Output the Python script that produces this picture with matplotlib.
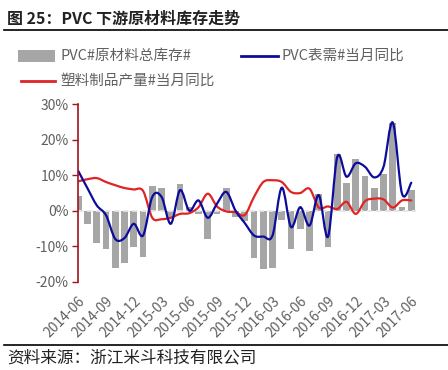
import matplotlib
matplotlib.use("Agg")
import matplotlib.pyplot as plt
from matplotlib.path import Path
from matplotlib.patches import PathPatch, Rectangle
from matplotlib.lines import Line2D
import numpy as np

plt.rcParams['font.family'] = ['Noto Sans CJK SC', 'DejaVu Sans']

# ---- data ----
months = ["2014-06", "2014-07", "2014-08", "2014-09", "2014-10", "2014-11", "2014-12",
          "2015-01", "2015-02", "2015-03", "2015-04", "2015-05", "2015-06", "2015-07",
          "2015-08", "2015-09", "2015-10", "2015-11", "2015-12", "2016-01", "2016-02",
          "2016-03", "2016-04", "2016-05", "2016-06", "2016-07", "2016-08", "2016-09",
          "2016-10", "2016-11", "2016-12", "2017-01", "2017-02", "2017-03", "2017-04",
          "2017-05", "2017-06"]
tick_labels = ["2014-06", "2014-09", "2014-12", "2015-03", "2015-06", "2015-09", "2015-12",
               "2016-03", "2016-06", "2016-09", "2016-12", "2017-03", "2017-06"]

inventory = [4.2, -3.8, -9.2, -10.9, -16.3, -14.9, -10.3, -13.1, 6.9, 6.5, -2.0, 7.5,
             1.0, -1.0, -8.1, -1.0, 6.5, -1.8, -2.8, -13.4, -16.5, -16.3, -2.5, -10.9,
             -5.2, -11.3, 4.8, -10.3, 16.0, 7.8, 14.6, 9.8, 6.5, 10.3, 24.9, 1.0, 5.8]
pvc_demand = [11.2, 6.3, 1.5, -1.3, -8.0, -7.7, -3.7, -7.0, 3.9, 3.9, -3.7, 5.8, 0.0,
              2.9, -2.0, 2.0, 5.3, 0.0, -3.5, -7.0, -7.3, -7.0, 6.5, -4.6, 1.0, -4.2,
              4.4, -7.3, 15.2, 9.6, 13.4, 12.4, 9.4, 12.4, 24.9, 4.8, 7.9]
plastic_output = [8.3, 8.9, 9.2, 8.1, 7.2, 6.4, 6.0, 5.6, -2.0, -2.4, -2.0, -0.9, -0.7,
                  1.0, 4.8, 1.2, -0.2, -0.4, -1.2, 3.9, 8.1, 8.6, 8.1, 5.3, 5.0, 6.2,
                  0.9, 1.2, 0.5, 2.5, -0.9, 2.7, 3.4, 3.2, 0.9, 2.9, 2.9]

title = "图 25：PVC 下游原材料库存走势"
source = "资料来源：浙江米斗科技有限公司"
leg_bar = "PVC#原材料总库存#"
leg_blue = "PVC表需#当月同比"
leg_red = "塑料制品产量#当月同比"

# ---- style ----
W, H = 448, 370
bar_c = '#a6a6a6'
blue_c = '#0c0c9c'
red_c = '#e02424'
axis_c = '#a0141a'
txt_c = '#606060'


def fx(px):
    return px / W


def fy(py):
    return 1 - py / H


def smooth_path(x, y):
    x = np.asarray(x, float)
    y = np.asarray(y, float)
    n = len(x)
    verts = [(x[0], y[0])]
    codes = [Path.MOVETO]
    for i in range(n - 1):
        p0 = i - 1 if i > 0 else i
        p3 = i + 2 if i + 2 < n else i + 1
        c1 = (x[i] + (x[i + 1] - x[p0]) / 6, y[i] + (y[i + 1] - y[p0]) / 6)
        c2 = (x[i + 1] - (x[p3] - x[i]) / 6, y[i + 1] - (y[p3] - y[i]) / 6)
        verts += [c1, c2, (x[i + 1], y[i + 1])]
        codes += [Path.CURVE4] * 3
    return Path(verts, codes)


fig = plt.figure(figsize=(W / 100, H / 100), dpi=100)

# title and rules
fig.text(fx(7), fy(19), title, fontsize=11.5, fontweight='bold', color='#222222',
         ha='left', va='center')
fig.add_artist(Line2D([fx(4), 1], [fy(30), fy(30)], color='black', lw=1.2))
fig.add_artist(Line2D([fx(4), 1], [fy(345), fy(345)], color='black', lw=1.2))
fig.text(fx(7), fy(358), source, fontsize=12, color='#222222', ha='left', va='center')

# legend
fig.add_artist(Rectangle((fx(18), fy(62)), fx(37), 12 / H, color=bar_c, lw=0))
fig.text(fx(60), fy(56), leg_bar, fontsize=10.5, color=txt_c, ha='left', va='center')
fig.add_artist(Line2D([fx(241), fx(278)], [fy(56), fy(56)], color=blue_c, lw=2))
fig.text(fx(281), fy(56), leg_blue, fontsize=10.5, color=txt_c, ha='left', va='center')
fig.add_artist(Line2D([fx(21), fx(55)], [fy(81), fy(81)], color=red_c, lw=2))
fig.text(fx(60), fy(81), leg_red, fontsize=10.5, color=txt_c, ha='left', va='center')

# axes
ax_left, ax_right = 78.3, 415.9
ax_top, ax_bot = 104.5, 281.5
ax = fig.add_axes([fx(ax_left), fy(ax_bot), fx(ax_right - ax_left), (ax_bot - ax_top) / H])
x = np.arange(len(months))
ax.bar(x, inventory, width=0.73, color=bar_c, zorder=1)
ax.axhline(0, color='#e6e6e6', lw=1.3, ls=(0, (3, 2)), zorder=2)
ax.add_patch(PathPatch(smooth_path(x, plastic_output), fill=False, edgecolor=red_c,
                       lw=1.6, zorder=3, capstyle='round', joinstyle='round'))
ax.add_patch(PathPatch(smooth_path(x, pvc_demand), fill=False, edgecolor=blue_c,
                       lw=1.6, zorder=4, capstyle='round', joinstyle='round'))

ax.set_xlim(0, 36.5)
ax.set_ylim(-20, 30)
yt = [-20, -10, 0, 10, 20, 30]
ax.set_yticks(yt)
ax.set_yticklabels([f"{v}%" for v in yt])
tick_pos = [months.index(m) for m in tick_labels]
ax.set_xticks(tick_pos)
ax.set_xticklabels(tick_labels, rotation=45, ha='right', rotation_mode='anchor')
ax.tick_params(axis='x', length=0, pad=9, labelsize=10, labelcolor=txt_c)
ax.tick_params(axis='y', length=4, width=1, color=axis_c, pad=3, labelsize=10,
               labelcolor=txt_c, direction='out')
for s in ['top', 'right', 'bottom']:
    ax.spines[s].set_visible(False)
ax.spines['left'].set_color(axis_c)
ax.spines['left'].set_linewidth(1.2)
ax.spines['left'].set_zorder(5)
ax.patch.set_alpha(0)

fig.savefig("out.png", dpi=100)
